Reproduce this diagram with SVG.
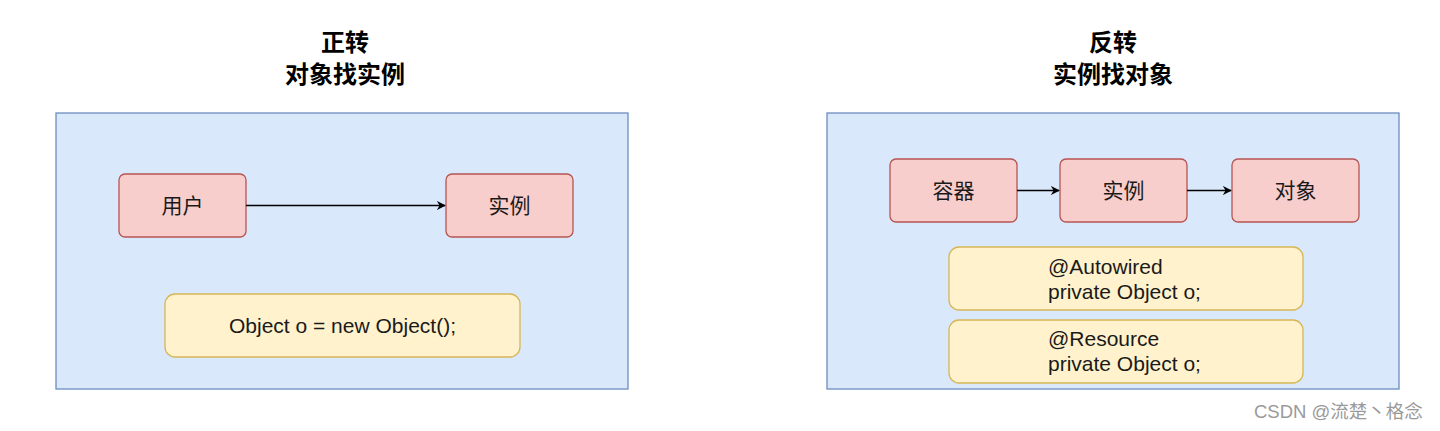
<svg xmlns="http://www.w3.org/2000/svg" width="1440" height="431" viewBox="0 0 1440 431">
<style>
.bg{fill:#dae8fc;stroke:#6c8ebf;stroke-width:1.3}
.red{fill:#f8cecc;stroke:#b85450;stroke-width:1.3}
.yel{fill:#fff2cc;stroke:#d6b656;stroke-width:1.3}
.t{font-family:"Liberation Sans","Noto Sans CJK SC",sans-serif;font-size:21px;fill:#1a1a1a}
.title{font-family:"Noto Sans CJK SC",sans-serif;font-size:24px;font-weight:bold;fill:#000;text-anchor:middle}
.c{text-anchor:middle}
.edge{stroke:#000;stroke-width:1.3;fill:none}
</style>
<defs>
<marker id="arr" viewBox="0 0 10 10" refX="9" refY="5" markerWidth="9" markerHeight="9" markerUnits="userSpaceOnUse" orient="auto">
<path d="M0,0 L10,5 L0,10 L3,5 Z" fill="#000"/>
</marker>
</defs>
<rect width="1440" height="431" fill="#fff"/>
<g id="title-left"><text class="title" x="345" y="51">正转</text><text class="title" x="345" y="83">对象找实例</text></g>
<g id="title-right"><text class="title" x="1113" y="51">反转</text><text class="title" x="1113" y="83">实例找对象</text></g>
<g id="container-left"><rect class="bg" x="56" y="113" width="572" height="276"/></g>
<g id="container-right"><rect class="bg" x="827" y="113" width="572" height="276"/></g>
<g id="user"><rect class="red" x="119" y="174" width="127" height="63" rx="6"/><text class="t c" x="182.5" y="213">用户</text></g>
<g id="instance-left"><rect class="red" x="446" y="174" width="127" height="63" rx="6"/><text class="t c" x="509.5" y="213">实例</text></g>
<g id="code-left"><rect class="yel" x="165" y="294" width="355" height="63" rx="10"/><text class="t c" x="342.5" y="333">Object o = new Object();</text></g>
<g id="container"><rect class="red" x="890" y="159" width="127" height="63" rx="6"/><text class="t c" x="953.5" y="198">容器</text></g>
<g id="instance-right"><rect class="red" x="1060" y="159" width="127" height="63" rx="6"/><text class="t c" x="1123.5" y="198">实例</text></g>
<g id="object"><rect class="red" x="1232" y="159" width="127" height="63" rx="6"/><text class="t c" x="1295.5" y="198">对象</text></g>
<g id="autowired"><rect class="yel" x="949" y="247" width="354" height="63" rx="10"/><text class="t" x="1048" y="274">@Autowired</text><text class="t" x="1048" y="299">private Object o;</text></g>
<g id="resource"><rect class="yel" x="949" y="320" width="354" height="63" rx="10"/><text class="t" x="1048" y="346">@Resource</text><text class="t" x="1048" y="371">private Object o;</text></g>
<g id="connectors">
<line class="edge" x1="246" y1="205.5" x2="445" y2="205.5" marker-end="url(#arr)"/>
<line class="edge" x1="1017" y1="190.5" x2="1059" y2="190.5" marker-end="url(#arr)"/>
<line class="edge" x1="1187" y1="190.5" x2="1231" y2="190.5" marker-end="url(#arr)"/>
</g>
<text x="1254" y="418" font-family="Liberation Sans,'Noto Sans CJK SC',sans-serif" font-size="18.5" fill="#9a9a9a">CSDN @流楚丶格念</text>
</svg>
